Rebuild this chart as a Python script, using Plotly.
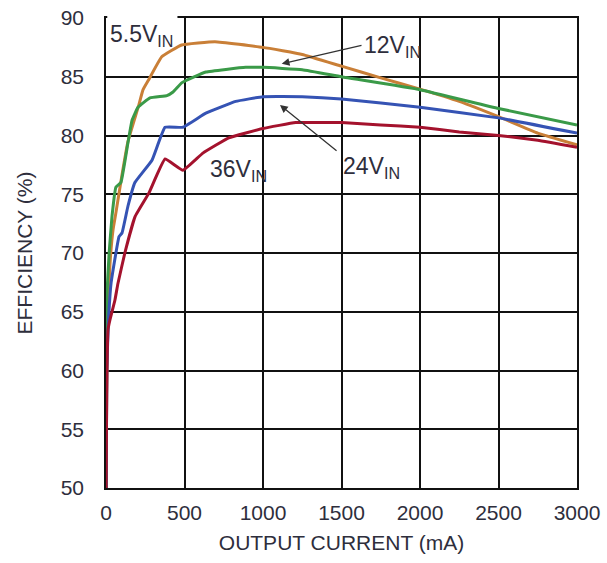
import plotly.graph_objects as go

# ---- data ----
x_55 = [1, 4, 10, 25, 45, 64, 100, 140, 206, 236, 270, 355, 482, 694, 1000, 1250, 1500, 1750, 2000, 2250, 2500, 2750, 3000]
y_55 = [50, 58, 64, 69, 72, 73.5, 76.5, 79.5, 82.45, 83.9, 84.7, 86.7, 87.7, 87.98, 87.5, 86.9, 85.9, 84.9, 83.95, 82.9, 81.6, 80.2, 79.2]

x_12 = [1, 3, 6, 20, 38, 63, 95, 140, 166, 204, 280, 388, 427, 484, 636, 890, 1000, 1250, 1500, 2000, 2500, 3000]
y_12 = [50, 57, 66.5, 70, 73.1, 75.6, 76.0, 79.4, 81.3, 82.4, 83.2, 83.4, 83.7, 84.5, 85.4, 85.8, 85.8, 85.6, 85.0, 83.9, 82.3, 80.9]

x_24 = [1, 5, 15, 32, 83, 102, 140, 184, 293, 376, 490, 636, 826, 1000, 1250, 1500, 2000, 2500, 3000]
y_24 = [50, 60, 64, 67.4, 71.4, 71.7, 74.0, 76.0, 77.9, 80.7, 80.7, 81.9, 82.9, 83.3, 83.3, 83.1, 82.4, 81.5, 80.2]

x_36 = [1, 3, 6, 13, 25, 57, 76, 120, 185, 273, 376, 490, 617, 782, 1000, 1208, 1500, 1750, 2000, 2250, 2500, 2750, 3000]
y_36 = [50, 55, 60, 63.5, 64.3, 66.0, 67.4, 70.0, 73.1, 75.1, 78.0, 77.05, 78.5, 79.8, 80.6, 81.1, 81.1, 80.9, 80.7, 80.3, 80.0, 79.6, 79.0]

x_ticks = [0, 500, 1000, 1500, 2000, 2500, 3000]
y_ticks = [50, 55, 60, 65, 70, 75, 80, 85, 90]

FONT = "Liberation Sans, Arial, sans-serif"
TXT = "#2e2e3c"

series = [
    (x_55, y_55, "#c97f37"),
    (x_12, y_12, "#3a9a48"),
    (x_24, y_24, "#3553b4"),
    (x_36, y_36, "#a4122d"),
]

fig = go.Figure()
for xs, ys, col in series:
    fig.add_trace(go.Scatter(x=xs, y=ys, mode="lines",
                             line=dict(color=col, width=3, shape="spline", smoothing=0.3),
                             showlegend=False, hoverinfo="skip"))

fig.update_layout(
    width=607, height=563,
    margin=dict(l=106, r=30, t=18, b=75),
    paper_bgcolor="white", plot_bgcolor="white",
    font=dict(family=FONT, size=21, color=TXT),
    xaxis=dict(range=[0, 3000], tickvals=x_ticks, ticktext=[str(v) for v in x_ticks],
               showgrid=True, gridcolor="#111", gridwidth=1.5,
               showline=True, linecolor="#111", linewidth=1.5, mirror=True,
               zeroline=False, ticks="", ticklabelstandoff=5, automargin=False,
               ticklabeloverflow="allow",
               tickfont=dict(family=FONT, size=21, color=TXT),
               title=dict(text="OUTPUT CURRENT (mA)", standoff=12,
                          font=dict(family=FONT, size=21, color=TXT))),
    yaxis=dict(range=[50, 90], tickvals=y_ticks, ticktext=[str(v) for v in y_ticks],
               showgrid=True, gridcolor="#111", gridwidth=1.5,
               showline=True, linecolor="#111", linewidth=1.5, mirror=True,
               zeroline=False, ticks="", ticklabelstandoff=16, automargin=False,
               ticklabeloverflow="allow",
               tickfont=dict(family=FONT, size=21, color=TXT),
               title=dict(text="EFFICIENCY (%)", standoff=22,
                          font=dict(family=FONT, size=21, color=TXT))),
)

# white patch breaking the top border behind the 5.5V label
fig.add_shape(type="rect", xref="x", yref="paper", x0=8, x1=455, y0=0.99, y1=1.012,
              fillcolor="white", line=dict(width=0), layer="above")

ann = dict(showarrow=False, font=dict(family=FONT, size=23, color=TXT))
fig.add_annotation(x=13, y=88.5, text="5.5V<sub>IN</sub>", xanchor="left", yanchor="middle", **ann)
fig.add_annotation(x=847, y=77.0, text="36V<sub>IN</sub>", xanchor="center", yanchor="middle", **ann)
fig.add_annotation(x=1825, y=87.55, text="12V<sub>IN</sub>", xanchor="center", yanchor="middle", **ann)
fig.add_annotation(x=1690, y=77.3, text="24V<sub>IN</sub>", xanchor="center", yanchor="middle", **ann)

# arrows
fig.add_annotation(x=1119, y=86.1, ax=1637, ay=87.7, xref="x", yref="y",
                   axref="x", ayref="y", text="", showarrow=True, arrowhead=2,
                   arrowsize=1.2, arrowwidth=1.3, arrowcolor="#333")
fig.add_annotation(x=1108, y=82.6, ax=1478, ay=78.6, xref="x", yref="y",
                   axref="x", ayref="y", text="", showarrow=True, arrowhead=2,
                   arrowsize=1.2, arrowwidth=1.3, arrowcolor="#333")

fig.write_html("out.html", config={"displayModeBar": False},
               post_script="document.body.style.margin='0';")
